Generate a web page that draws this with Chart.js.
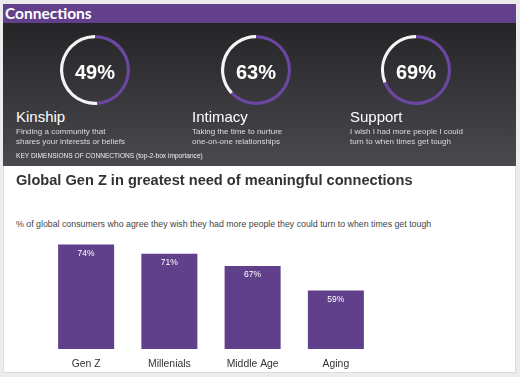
<!DOCTYPE html>
<html>
<head>
<meta charset="utf-8">
<script src="https://cdn.jsdelivr.net/npm/chart.js@4/dist/chart.umd.min.js"></script>
<style>
  body { margin: 0; width: 520px; height: 377px; background: #ececec; position: relative; overflow: hidden;
         font-family: "Liberation Sans", Arial, sans-serif; }
  .abs { position: absolute; }
  #card { left: 3px; top: 4px; width: 511px; height: 367px; background: #fff; border: 1px solid #dcdcdc; }
  #head { left: 3px; top: 4px; width: 513px; height: 19px; background: #62408c; }
  #head span { position: absolute; left: 2px; top: 0; font: bold 15.5px/19px Lato, sans-serif; color: #fff; }
  #dark { left: 3px; top: 23px; width: 513px; height: 143px; background: linear-gradient(#252528, #4a494e); }
  .pct { width: 70px; height: 70px; display: flex; align-items: center; justify-content: center;
         padding-top: 4px; box-sizing: border-box; font: bold 20px/20px "Liberation Sans", Arial; color: #fff; }
  .lbl { font-size: 15px; line-height: 15px; color: #fff; }
  .desc { font-size: 8px; line-height: 10px; color: #ddd; }
  #key { left: 16px; top: 152px; font-size: 6.6px; line-height: 7px; color: #eee; }
  #title { left: 16px; top: 173px; font: bold 14.6px/14.6px "Liberation Sans", Arial; color: #333; }
  #sub { left: 16px; top: 220px; font-size: 8.8px; line-height: 9px; color: #444; }
  #barWrap { left: 3px; top: 200px; width: 513px; height: 172px; }
</style>
</head>
<body>
<div id="card" class="abs"></div>
<div id="head" class="abs"><span>Connections</span></div>
<div id="dark" class="abs"></div>

<canvas id="d0" class="abs" width="70" height="70" style="left:60px;top:35px"></canvas>
<canvas id="d1" class="abs" width="70" height="70" style="left:221px;top:35px"></canvas>
<canvas id="d2" class="abs" width="70" height="70" style="left:381px;top:35px"></canvas>
<div id="p0" class="abs pct" style="left:60px;top:35px"></div>
<div id="p1" class="abs pct" style="left:221px;top:35px"></div>
<div id="p2" class="abs pct" style="left:381px;top:35px"></div>

<div class="abs lbl" style="left:16px;top:109px">Kinship</div>
<div class="abs desc" style="left:16px;top:127px">Finding a community that<br>shares your interests or beliefs</div>
<div class="abs lbl" style="left:192px;top:109px">Intimacy</div>
<div class="abs desc" style="left:192px;top:127px">Taking the time to nurture<br>one-on-one relationships</div>
<div class="abs lbl" style="left:350px;top:109px">Support</div>
<div class="abs desc" style="left:350px;top:127px">I wish I had more people I could<br>turn to when times get tough</div>
<div id="key" class="abs">KEY DIMENSIONS OF CONNECTIONS (top-2-box importance)</div>

<div id="title" class="abs">Global Gen Z in greatest need of meaningful connections</div>
<div id="sub" class="abs">% of global consumers who agree they wish they had more people they could turn to when times get tough</div>

<div id="barWrap" class="abs"><canvas id="bars" width="513" height="172"></canvas></div>

<script>
// top donuts
const dimensions = ["Kinship", "Intimacy", "Support"];
const dimensionValues = [49, 63, 69];

// bar chart
const ageGroups = ["Gen Z", "Millenials", "Middle Age", "Aging"];
const agreeValues = [74, 71, 67, 59];

const purple = "#61408b";

dimensionValues.forEach(function (v, i) {
  document.getElementById("p" + i).textContent = v + "%";
  new Chart(document.getElementById("d" + i).getContext("2d"), {
    type: "doughnut",
    data: {
      labels: [dimensions[i], ""],
      datasets: [{
        data: [v, 100 - v],
        backgroundColor: ["#6b47a3", "#f4f4f4"],
        borderWidth: 0,
      }],
    },
    options: {
      responsive: false,
      animation: false,
      cutout: "91%",
      plugins: { legend: { display: false }, tooltip: { enabled: false } },
    },
  });
});

const valueLabels = {
  id: "valueLabels",
  afterDatasetsDraw(chart) {
    const ctx = chart.ctx;
    const meta = chart.getDatasetMeta(0);
    ctx.save();
    ctx.fillStyle = "#fff";
    ctx.font = "8.5px 'Liberation Sans', Arial";
    ctx.textAlign = "center";
    ctx.textBaseline = "middle";
    meta.data.forEach(function (bar, i) {
      ctx.fillText(agreeValues[i] + "%", bar.x, bar.y + 9);
    });
    ctx.restore();
  },
};

new Chart(document.getElementById("bars").getContext("2d"), {
  type: "bar",
  data: {
    labels: ageGroups,
    datasets: [{
      data: agreeValues,
      backgroundColor: purple,
      borderWidth: 0,
      categoryPercentage: 1,
      barPercentage: 0.673,
    }],
  },
  options: {
    responsive: false,
    animation: false,
    layout: { padding: { left: 41.5, right: 138.5, top: 26, bottom: 0 } },
    scales: {
      x: {
        grid: { display: false },
        border: { display: false },
        ticks: { color: "#333", padding: 1, font: { family: "'Liberation Sans', Arial", size: 10.4 } },
        afterFit: function (axis) { axis.height = 23; },
      },
      y: { display: false, min: 40, max: 80 },
    },
    plugins: { legend: { display: false }, tooltip: { enabled: false } },
  },
  plugins: [valueLabels],
});
</script>
</body>
</html>
